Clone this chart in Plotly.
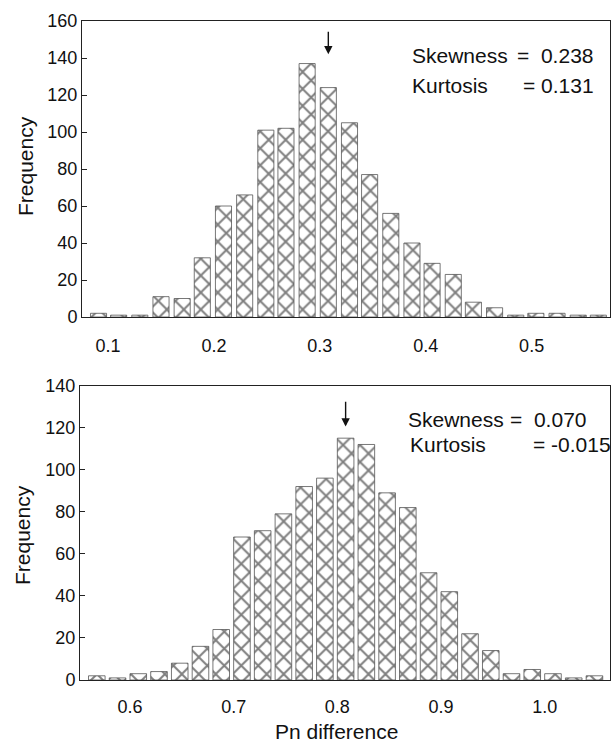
import plotly.graph_objects as go

# ---- data ----
top_bins = [0.091, 0.110, 0.130, 0.150, 0.170, 0.189, 0.209, 0.229, 0.249, 0.268,
            0.288, 0.308, 0.328, 0.347, 0.367, 0.387, 0.406, 0.426, 0.445, 0.465,
            0.485, 0.504, 0.524, 0.544, 0.563]
top_freq = [2, 1, 1, 11, 10, 32, 60, 66, 101, 102,
            137, 124, 105, 77, 56, 40, 29, 23, 8, 5,
            1, 2, 2, 1, 1]
top_ticks = [0.1, 0.2, 0.3, 0.4, 0.5]
top_ticktext = ["0.1", "0.2", "0.3", "0.4", "0.5"]
top_stats = ["Skewness", "=  0.238", "Kurtosis", "= 0.131"]
top_mode = 0.308

bottom_bins = [0.568, 0.588, 0.608, 0.628, 0.648, 0.668, 0.688, 0.708, 0.728, 0.748,
               0.768, 0.788, 0.808, 0.828, 0.848, 0.868, 0.888, 0.908, 0.928, 0.948,
               0.968, 0.988, 1.008, 1.028, 1.048]
bottom_freq = [2, 1, 3, 4, 8, 16, 24, 68, 71, 79,
               92, 96, 115, 112, 89, 82, 51, 42, 22, 14,
               3, 5, 3, 1, 2]
bottom_ticks = [0.6, 0.7, 0.8, 0.9, 1.0]
bottom_ticktext = ["0.6", "0.7", "0.8", "0.9", "1.0"]
bottom_stats = ["Skewness", "=  0.070", "Kurtosis", "= -0.015"]
bottom_mode = 0.808

W, H = 612, 742
FONT = "Liberation Sans, Arial, Helvetica, sans-serif"

def px(v):
    return v / W

def py(v):
    return 1 - v / H

bar_style = dict(
    marker=dict(
        color="white",
        line=dict(color="#555555", width=0.8),
        pattern=dict(shape="x", fgcolor="#000000", bgcolor="white", size=12, solidity=0.3),
    ),
    showlegend=False,
    hoverinfo="x+y",
)

fig = go.Figure()
fig.add_trace(go.Bar(x=top_bins, y=top_freq, xaxis="x", yaxis="y", **bar_style))
fig.add_trace(go.Bar(x=bottom_bins, y=bottom_freq, xaxis="x2", yaxis="y2", **bar_style))

axis_common = dict(
    showline=True, linecolor="#222222", linewidth=1, mirror=True,
    showgrid=False, zeroline=False,
    tickfont=dict(family=FONT, size=18, color="#111111"),
    automargin=False,
)

fig.update_layout(
    width=W, height=H,
    margin=dict(l=0, r=0, t=0, b=0),
    paper_bgcolor="white", plot_bgcolor="white",
    bargap=0.2,
    font=dict(family=FONT, color="#111111"),
    xaxis=dict(domain=[px(82), px(610)], range=[0.0754, 0.574],
               tickvals=top_ticks, ticktext=top_ticktext, ticks="",
               ticklabelstandoff=12, anchor="y", **axis_common),
    yaxis=dict(domain=[py(317), py(21)], range=[0, 160], dtick=20,
               ticks="inside", ticklen=5, tickcolor="#222222",
               ticklabelstandoff=0, anchor="x", **axis_common),
    xaxis2=dict(domain=[px(80), px(610)], range=[0.5518, 1.063],
                tickvals=bottom_ticks, ticktext=bottom_ticktext, ticks="",
                ticklabelstandoff=10, anchor="y2", **axis_common),
    yaxis2=dict(domain=[py(680), py(385.6)], range=[0, 140], dtick=20,
                ticks="inside", ticklen=5, tickcolor="#222222",
                ticklabelstandoff=0, anchor="x2", **axis_common),
)

ann = []
# y titles
ann.append(dict(text="Frequency", x=px(25), y=py(166), xref="paper", yref="paper",
                xanchor="center", yanchor="middle",
                textangle=-90, showarrow=False, font=dict(size=21, family=FONT)))
ann.append(dict(text="Frequency", x=px(22), y=py(535), xref="paper", yref="paper",
                xanchor="center", yanchor="middle",
                textangle=-90, showarrow=False, font=dict(size=21, family=FONT)))
# x title
ann.append(dict(text="Pn difference", x=px(336), y=0, xref="paper", yref="paper",
                xanchor="center", yanchor="bottom", yshift=-3,
                showarrow=False, font=dict(size=21, family=FONT)))

# stats text
def stats(labels, xs, ys):
    for t, x, y in zip(labels, xs, ys):
        ann.append(dict(text=t, x=px(x), y=py(y), xref="paper", yref="paper",
                        xanchor="left", yanchor="middle", showarrow=False,
                        font=dict(size=21, family=FONT)))

stats(top_stats, [410, 515, 410, 521], [56, 56, 85, 85])
stats(bottom_stats, [406, 508, 408, 531], [419, 419, 444, 444])

# arrows marking the observed value
ann.append(dict(x=top_mode, y=142, ax=top_mode, ay=155, xref="x", yref="y",
                axref="x", ayref="y", text="", showarrow=True,
                arrowhead=2, arrowsize=1.2, arrowwidth=1.4, arrowcolor="#111111"))
ann.append(dict(x=bottom_mode, y=120.5, ax=bottom_mode, ay=133, xref="x2", yref="y2",
                axref="x2", ayref="y2", text="", showarrow=True,
                arrowhead=2, arrowsize=1.2, arrowwidth=1.4, arrowcolor="#111111"))

fig.update_layout(annotations=ann)

fig.write_html("out.html", config={"displayModeBar": False},
               post_script="document.body.style.margin='0';")
